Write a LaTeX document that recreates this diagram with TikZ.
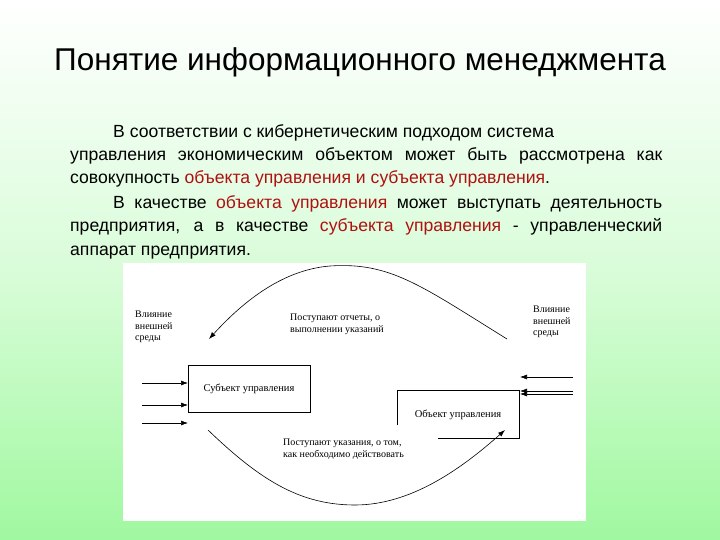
\documentclass[tikz,border=0pt]{standalone}
\usepackage{fontspec}
\setmainfont{Liberation Sans}
\newfontfamily\bodyf{Liberation Sans}
\newfontfamily\serf{Liberation Serif}
\definecolor{bgg}{HTML}{A0F8A0}
\definecolor{term}{HTML}{B01010}
\usetikzlibrary{arrows.meta}
\tikzset{lbl/.style={font=\serf\fontsize{10}{11.5}\selectfont,align=left,inner sep=0pt,anchor=north west},
 box/.style={draw,line width=0.7pt,inner sep=0pt,font=\serf\fontsize{10.5}{12}\selectfont},
 arr/.style={-{Latex[length=7pt,width=5pt]},line width=0.6pt}}
\begin{document}
\begin{tikzpicture}[x=1pt,y=-1pt]
\shade[top color=white,bottom color=bgg,middle color=white!60!bgg] (0,0) rectangle (720,540);
\useasboundingbox (0,0) rectangle (720,540);
\node[font=\fontsize{31.5}{36}\selectfont] (title) at (360,62) {Понятие информационного менеджмента};
\node[anchor=north west,inner sep=0pt,text width=592pt,align=justify,font=\bodyf\fontsize{17.6}{23.4}\selectfont] (body) at (70,124)
{\parindent=43pt\indent В соответствии с кибернетическим подходом система\newline
управления экономическим объектом может быть рассмотрена как\linebreak
совокупность {\color{term}объекта управления и субъекта управления}.\par
\vspace{1pt}\indent В качестве {\color{term}объекта управления} может выступать деятельность\linebreak
предприятия, а в качестве {\color{term}субъекта управления} - управленческий\linebreak
аппарат предприятия.};
\fill[white] (123,263) rectangle (586,521);
\node[box,minimum width=122pt,minimum height=47pt,anchor=north west] (subj) at (188,365) {};
\node[font=\serf\fontsize{10.5}{12}\selectfont] (subjt) at (249,389) {Субъект управления};
\coordinate (o1) at (397,425); \coordinate (o2) at (397,390); \coordinate (o3) at (519,390);
\coordinate (o4) at (519,438); \coordinate (o5) at (438,438);
\draw[line width=0.7pt] (o1) -- (o2) -- (o3) -- (o4) -- (o5);
\node[font=\serf\fontsize{10.5}{12}\selectfont] (objt) at (458,415) {Объект управления};
\foreach \y/\n in {383/a,405/b,423/c}{
 \coordinate (l\n) at (142,\y); \coordinate (le\n) at (188,\y);
 \draw[arr] (l\n) -- (le\n);}
\foreach \y/\n in {377/a,391/b,394/c}{
 \coordinate (r\n) at (573,\y); \coordinate (re\n) at (520,\y);
 \draw[arr] (r\n) -- (re\n);}
\coordinate (ts) at (507,339); \coordinate (te) at (209,339);
\draw[arr] (ts) .. controls (420,285) and (390,262) .. (330,266) .. controls (280,270) and (240,305) .. (te);
\coordinate (bs) at (208,430); \coordinate (be) at (505,430);
\draw[arr] (bs) .. controls (260,480) and (300,505) .. (355,505) .. controls (410,505) and (460,470) .. (be);
\node[lbl] (ll) at (135,311) {Влияние\\внешней\\среды};
\node[lbl] (rl) at (533,306) {Влияние\\внешней\\среды};
\node[lbl] (tl) at (290,314) {Поступают отчеты, о\\выполнении указаний};
\node[lbl] (bl) at (283,439) {Поступают указания, о том,\\как необходимо действовать};
\end{tikzpicture}
\end{document}
